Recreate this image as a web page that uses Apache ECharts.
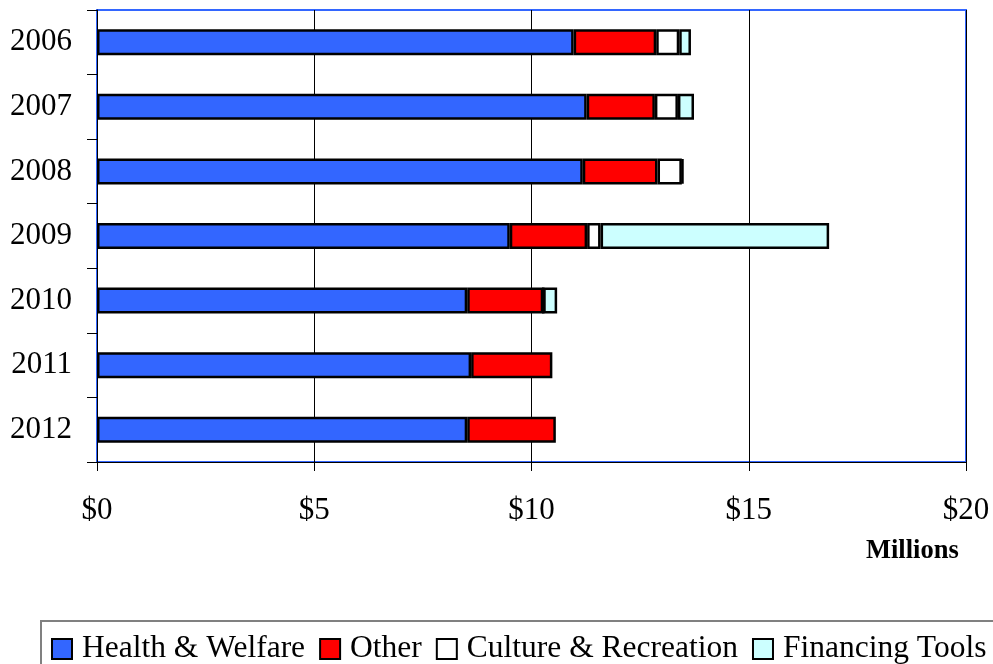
<!DOCTYPE html>
<html>
<head>
<meta charset="utf-8">
<script src="https://cdn.jsdelivr.net/npm/echarts@6/dist/echarts.min.js"></script>
<style>
html,body{margin:0;padding:0;background:#fff;}
#chart{width:993px;height:664px;}
</style>
</head>
<body>
<div id="chart"></div>
<script>
var years = ['2006', '2007', '2008', '2009', '2010', '2011', '2012'];
var healthWelfare = [10.97, 11.27, 11.18, 9.50, 8.52, 8.61, 8.52];
var other = [1.90, 1.57, 1.72, 1.78, 1.75, 1.87, 2.04];
var cultureRecreation = [0.53, 0.53, 0.56, 0.31, 0, null, null];
var financingTools = [0.27, 0.37, 0.03, 5.26, 0.32, null, null];
var xTicks = [0, 5, 10, 15, 20];

var FONT = "'Liberation Serif', 'Times New Roman', serif";
var chart = echarts.init(document.getElementById('chart'), null, {renderer: 'canvas'});

function mk(name, data, color) {
  return {
    name: name,
    type: 'bar',
    stack: 'total',
    data: data,
    barWidth: 26,
    itemStyle: {color: color, borderColor: '#000', borderWidth: 2.5},
    emphasis: {disabled: true}
  };
}

chart.setOption({
  animation: false,
  backgroundColor: '#fff',
  grid: {
    left: 97, right: 27, top: 10, bottom: 202,
    show: true, borderColor: '#3366FF', borderWidth: 2, backgroundColor: 'transparent'
  },
  xAxis: {
    type: 'value',
    min: xTicks[0], max: xTicks[xTicks.length - 1], interval: 5,
    axisLine: {show: true, lineStyle: {color: '#000', width: 1}},
    axisTick: {show: true, length: 9, lineStyle: {color: '#000'}},
    splitLine: {show: true, lineStyle: {color: '#000', width: 1}},
    axisLabel: {
      margin: 33, color: '#000', fontFamily: FONT, fontSize: 31,
      formatter: function (v) { return '$' + v; }
    }
  },
  yAxis: {
    type: 'category',
    data: years,
    inverse: true,
    axisLine: {show: true, lineStyle: {color: '#000', width: 1}},
    axisTick: {show: true, length: 10, alignWithLabel: false, lineStyle: {color: '#000'}},
    axisLabel: {margin: 25, color: '#000', fontFamily: FONT, fontSize: 31}
  },
  legend: {
    left: 41, top: 621, width: 1200,
    padding: [12, 12, 12, 10],
    itemWidth: 20, itemHeight: 20, itemGap: 14,
    borderColor: '#808080', borderWidth: 2,
    icon: 'rect',
    itemStyle: {borderColor: '#000', borderWidth: 2},
    textStyle: {color: '#000', fontFamily: FONT, fontSize: 31.5, padding: [0, 0, 0, 5]},
    data: ['Health & Welfare', 'Other', 'Culture & Recreation', 'Financing Tools']
  },
  graphic: [{
    type: 'text', left: 866, top: 538,
    style: {text: 'Millions', fontFamily: FONT, fontWeight: 'bold', fontSize: 26.5, fill: '#000'}
  }],
  series: [
    mk('Health & Welfare', healthWelfare, '#3366FF'),
    mk('Other', other, '#FF0000'),
    mk('Culture & Recreation', cultureRecreation, '#FFFFFF'),
    mk('Financing Tools', financingTools, '#CCFFFF')
  ]
});
</script>
</body>
</html>
